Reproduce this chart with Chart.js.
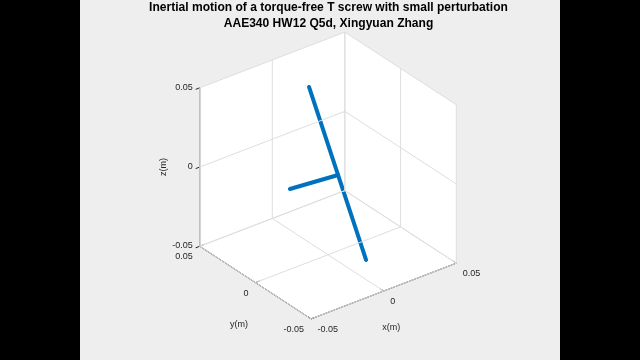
<!DOCTYPE html>
<html>
<head>
<meta charset="utf-8">
<script src="https://cdn.jsdelivr.net/npm/chart.js@4.4.1/dist/chart.umd.min.js"></script>
<style>
html,body{margin:0;padding:0;background:#000;}
#wrap{width:640px;height:360px;position:relative;}
canvas{display:block;}
</style>
</head>
<body>
<div id="wrap"><canvas id="c" width="640" height="360"></canvas></div>
<script>
// ---------------- data ----------------
const titleLines = ['Inertial motion of a torque-free T screw with small perturbation',
                    'AAE340 HW12 Q5d, Xingyuan Zhang'];
const axisLimits = [-0.05, 0.05];           // same limits for x, y, z (m)
const tickValues = [-0.05, 0, 0.05];
const tickLabels = ['-0.05', '0', '0.05'];
const xLabel = 'x(m)';
const yLabel = 'y(m)';
const zLabel = 'z(m)';
// main shaft of the T screw (two end points)
const shaftX = [-0.0150, 0.0243];
const shaftY = [-0.0025, -0.0025];
const shaftZ = [0.0623, -0.0607];
// cross arm of the T (junction -> tip)
const armX = [0.0050, -0.0181];
const armY = [-0.0025, 0.0106];
const armZ = [-0.0003, -0.0070];

// ---------------- view / layout ----------------
const AZ = -37.5 * Math.PI / 180, EL = 30 * Math.PI / 180;   // MATLAB default view(3)
const BOX_SCALE = 183;      // px per normalised plot-box unit
const BOX_CX = 328, BOX_CY = 175.5;
const W = 640, H = 360;
const FIG_LEFT = 80, FIG_RIGHT = 560;
const FONT = '"Liberation Sans", Arial, Helvetica, sans-serif';
const AX_COLOR = '#262626', GRID_COLOR = '#dedede', LINE_COLOR = '#0072BD';

const lo = axisLimits[0], hi = axisLimits[1];
const mid = (lo + hi) / 2, span = hi - lo;
function proj(x, y, z) {
  const X = (x - mid) / span, Y = (y - mid) / span, Z = (z - mid) / span;
  return {
    x: Math.cos(AZ) * X + Math.sin(AZ) * Y,
    y: -Math.sin(EL) * Math.sin(AZ) * X + Math.sin(EL) * Math.cos(AZ) * Y + Math.cos(EL) * Z
  };
}
function seg(p, q, color, width, extra) {
  return Object.assign({
    data: [proj(...p), proj(...q)],
    showLine: true, borderColor: color, borderWidth: width,
    pointRadius: 0, pointHoverRadius: 0, fill: false, tension: 0
  }, extra || {});
}

const datasets = [];
// grid lines on the three back planes
tickValues.forEach(v => {
  datasets.push(seg([v, lo, lo], [v, hi, lo], GRID_COLOR, 1));   // floor, x const
  datasets.push(seg([lo, v, lo], [hi, v, lo], GRID_COLOR, 1));   // floor, y const
  datasets.push(seg([v, hi, lo], [v, hi, hi], GRID_COLOR, 1));   // y=hi wall, x const
  datasets.push(seg([lo, hi, v], [hi, hi, v], GRID_COLOR, 1));   // y=hi wall, z const
  datasets.push(seg([hi, v, lo], [hi, v, hi], GRID_COLOR, 1));   // x=hi wall, y const
  datasets.push(seg([hi, lo, v], [hi, hi, v], GRID_COLOR, 1));   // x=hi wall, z const
});
// axis lines
datasets.push(seg([lo, lo, lo], [hi, lo, lo], AX_COLOR, 1));   // x axis
datasets.push(seg([lo, hi, lo], [lo, lo, lo], AX_COLOR, 1));   // y axis
datasets.push(seg([lo, hi, lo], [lo, hi, hi], AX_COLOR, 1));   // z axis
// tick marks
const tk = 0.0028;
tickValues.forEach(v => {
  datasets.push(seg([v, lo, lo], [v, lo + tk, lo], AX_COLOR, 1));
  datasets.push(seg([lo, v, lo], [lo + tk, v, lo], AX_COLOR, 1));
  datasets.push(seg([lo, hi, v], [lo - tk, hi, v], AX_COLOR, 1));
});
// T screw
datasets.push({
  data: shaftX.map((x, i) => proj(x, shaftY[i], shaftZ[i])),
  showLine: true, borderColor: LINE_COLOR, borderWidth: 4, pointRadius: 0,
  borderCapStyle: 'round', fill: false
});
datasets.push({
  data: armX.map((x, i) => proj(x, armY[i], armZ[i])),
  showLine: true, borderColor: LINE_COLOR, borderWidth: 4, pointRadius: 0,
  borderCapStyle: 'round', fill: false
});

const figurePlugin = {
  id: 'figure',
  beforeDraw(chart) {
    const ctx = chart.ctx;
    ctx.save();
    ctx.fillStyle = '#000';
    ctx.fillRect(0, 0, W, H);
    ctx.fillStyle = '#eeeeee';
    ctx.fillRect(FIG_LEFT, 0, FIG_RIGHT - FIG_LEFT, H);
    ctx.restore();
  },
  beforeDatasetsDraw(chart) {
    const ctx = chart.ctx, sx = chart.scales.x, sy = chart.scales.y;
    const px = (x, y, z) => { const p = proj(x, y, z); return [sx.getPixelForValue(p.x), sy.getPixelForValue(p.y)]; };
    const faces = [
      [[lo, lo, lo], [hi, lo, lo], [hi, hi, lo], [lo, hi, lo]],
      [[lo, hi, lo], [hi, hi, lo], [hi, hi, hi], [lo, hi, hi]],
      [[hi, lo, lo], [hi, hi, lo], [hi, hi, hi], [hi, lo, hi]]
    ];
    ctx.save();
    ctx.fillStyle = '#ffffff';
    faces.forEach(f => {
      ctx.beginPath();
      f.forEach((c, i) => { const p = px(...c); if (i) ctx.lineTo(p[0], p[1]); else ctx.moveTo(p[0], p[1]); });
      ctx.closePath();
      ctx.fill();
    });
    ctx.restore();
  },
  afterDraw(chart) {
    const ctx = chart.ctx, sx = chart.scales.x, sy = chart.scales.y;
    const px = (x, y, z) => { const p = proj(x, y, z); return [sx.getPixelForValue(p.x), sy.getPixelForValue(p.y)]; };
    ctx.save();
    // title
    ctx.fillStyle = '#000';
    ctx.textAlign = 'center';
    ctx.textBaseline = 'alphabetic';
    ctx.font = 'bold 10px ' + FONT;
    const w1 = ctx.measureText(titleLines[0]).width;
    const tsize = 10 * 359 / w1;
    ctx.font = 'bold ' + tsize.toFixed(2) + 'px ' + FONT;
    ctx.fillText(titleLines[0], 328.5, 11);
    ctx.fillText(titleLines[1], 328.5, 26.5);
    // tick labels
    ctx.fillStyle = AX_COLOR;
    ctx.font = '9px ' + FONT;
    ctx.textBaseline = 'middle';
    tickValues.forEach((v, i) => {
      let p = px(v, lo, lo);
      ctx.textAlign = 'left';
      ctx.fillText(tickLabels[i], p[0] + 6.5, p[1] + 10.5);
      p = px(lo, v, lo);
      ctx.textAlign = 'right';
      ctx.fillText(tickLabels[i], p[0] - 7, p[1] + 10.5);
      p = px(lo, hi, v);
      ctx.textAlign = 'right';
      ctx.fillText(tickLabels[i], p[0] - 7, p[1] - 0.5);
    });
    // axis labels
    ctx.textAlign = 'center';
    let p = px(0, lo, lo);
    ctx.fillText(xLabel, p[0] + 7.5, p[1] + 36);
    p = px(lo, 0, lo);
    ctx.fillText(yLabel, p[0] - 16.5, p[1] + 41.5);
    p = px(lo, hi, 0);
    ctx.translate(p[0] - 36, p[1]);
    ctx.rotate(-Math.PI / 2);
    ctx.fillText(zLabel, 0, 0);
    ctx.restore();
  }
};

new Chart(document.getElementById('c'), {
  type: 'scatter',
  data: { datasets },
  options: {
    responsive: false,
    animation: false,
    devicePixelRatio: 1,
    layout: { padding: 0 },
    plugins: { legend: { display: false }, tooltip: { enabled: false }, title: { display: false } },
    scales: {
      x: { type: 'linear', display: false, min: -BOX_CX / BOX_SCALE, max: (W - BOX_CX) / BOX_SCALE },
      y: { type: 'linear', display: false, min: -(H - BOX_CY) / BOX_SCALE, max: BOX_CY / BOX_SCALE }
    }
  },
  plugins: [figurePlugin]
});
</script>
</body>
</html>
